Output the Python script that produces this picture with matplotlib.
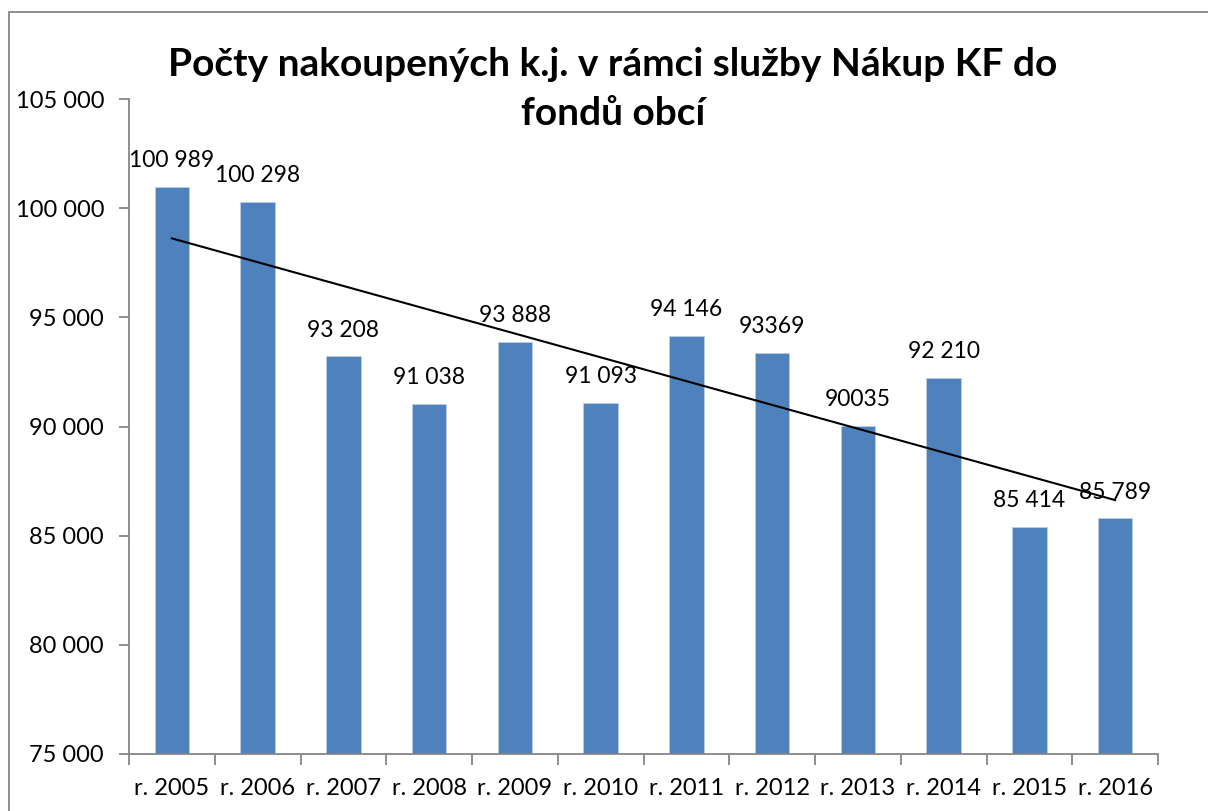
import numpy as np
import matplotlib.pyplot as plt
from matplotlib.ticker import FuncFormatter, FixedLocator
from matplotlib.patches import Rectangle

plt.rcParams['font.family'] = ['Lato', 'DejaVu Sans']

years = ["r. 2005", "r. 2006", "r. 2007", "r. 2008", "r. 2009", "r. 2010",
         "r. 2011", "r. 2012", "r. 2013", "r. 2014", "r. 2015", "r. 2016"]
counts = [100989, 100298, 93208, 91038, 93888, 91093,
          94146, 93369, 90035, 92210, 85414, 85789]
# labels as written in the source chart (formatting is not uniform)
labels = ["100 989", "100 298", "93 208", "91 038", "93 888", "91 093",
          "94 146", "93369", "90035", "92 210", "85 414", "85 789"]
title = "Počty nakoupených k.j. v rámci služby Nákup KF do\nfondů obcí"

fig = plt.figure(figsize=(12.08, 8.11), dpi=100)
ax = fig.add_axes([129 / 1208, 57 / 811, 1029 / 1208, 655 / 811])

# outer chart frame (runs off the right/bottom edge)
fig.patches.append(Rectangle((9 / 1208, -0.05), 1.1, (811 - 12) / 811 + 0.05,
                             transform=fig.transFigure, fill=False,
                             edgecolor="#868686", linewidth=1.3))

x = np.arange(len(years))
ax.bar(x, counts, width=0.4, color="#4F81BD", edgecolor="#B9CDE5",
       linewidth=0.6, zorder=2)

# linear trend line
k, q = np.polyfit(x, counts, 1)
ax.plot(x, k * x + q, color="black", linewidth=1.5, zorder=3)

for xi, v, lab in zip(x, counts, labels):
    ax.annotate(lab, (xi, v), xytext=(0, 19), textcoords="offset points",
                ha="center", va="center", fontsize=16.5, zorder=4)

ax.set_xlim(-0.5, len(years) - 0.5)
ax.set_ylim(75000, 105000)
ax.set_yticks(np.arange(75000, 105001, 5000))
ax.yaxis.set_major_formatter(FuncFormatter(lambda v, p: f"{v:,.0f}".replace(",", " ")))
ax.set_xticks(x)
ax.set_xticklabels(years)
ax.xaxis.set_minor_locator(FixedLocator(np.arange(-0.5, len(years), 1.0)))

for s in ["top", "right"]:
    ax.spines[s].set_visible(False)
for s in ["left", "bottom"]:
    ax.spines[s].set_color("#868686")
    ax.spines[s].set_linewidth(1.3)

ax.tick_params(axis="y", length=7, width=1.3, color="#868686", pad=11, labelsize=17)
ax.tick_params(axis="x", which="major", length=0, pad=17, labelsize=17)
ax.tick_params(axis="x", which="minor", length=8, width=1.3, color="#868686")

fig.text(613 / 1208, 1 - 89 / 811, title, ha="center", va="center",
         fontsize=28, fontweight="bold", linespacing=1.5)

fig.savefig("out.png", dpi=100)
